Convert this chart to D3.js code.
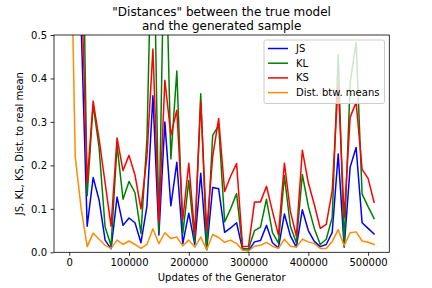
<!DOCTYPE html>
<html><head><meta charset="utf-8">
<script src="https://cdn.jsdelivr.net/npm/d3@7"></script>
<style>
html,body{margin:0;padding:0;background:#fff;}
svg{display:block;font-family:"DejaVu Sans",sans-serif;}
</style></head>
<body>
<svg id="chart" width="432" height="288"></svg>
<script>
const updates = d3.range(0, 520000, 10000);
const jsVals = [0.9,0.75,0.52,0.06,0.172,0.12,0.028,0.008,0.127,0.062,0.079,0.068,0.022,0.106,0.36,0.04,0.30,0.107,0.207,0.02,0.09,0.018,0.182,0.006,0.149,0.146,0.046,0.056,0.068,0.006,0.004,0.024,0.027,0.062,0.022,0.01,0.088,0.038,0.012,0.098,0.05,0.025,0.013,0.018,0.046,0.226,0.012,0.196,0.241,0.068,0.055,0.042];
const klVals = [1.3,1.1,1.0,0.13,0.34,0.24,0.058,0.015,0.246,0.122,0.163,0.137,0.043,0.26,0.86,0.046,0.8,0.215,0.417,0.042,0.165,0.025,0.365,0.006,0.269,0.292,0.07,0.10,0.135,0.008,0.008,0.05,0.058,0.122,0.045,0.021,0.176,0.06,0.022,0.179,0.106,0.055,0.018,0.03,0.08,0.455,0.015,0.39,0.483,0.134,0.105,0.078];
const ksVals = [1.0,0.8,0.64,0.16,0.348,0.26,0.16,0.06,0.263,0.188,0.223,0.178,0.10,0.22,0.468,0.07,0.396,0.27,0.327,0.075,0.205,0.04,0.347,0.05,0.22,0.308,0.14,0.175,0.204,0.013,0.014,0.116,0.116,0.152,0.094,0.04,0.205,0.094,0.037,0.235,0.16,0.11,0.055,0.064,0.142,0.39,0.08,0.311,0.345,0.191,0.17,0.115];
const meanVals = [0.95,0.22,0.10,0.013,0.044,0.03,0.016,0.009,0.028,0.018,0.026,0.018,0.009,0.018,0.054,0.02,0.045,0.032,0.035,0.015,0.028,0.012,0.035,0.006,0.041,0.034,0.023,0.028,0.02,0.005,0.003,0.014,0.016,0.023,0.014,0.009,0.03,0.014,0.012,0.03,0.024,0.02,0.009,0.009,0.025,0.052,0.015,0.045,0.047,0.026,0.023,0.018];
const seriesNames = ["JS","KL","KS","Dist. btw. means"];
const seriesColors = ["#0000ff","#008000","#ff0000","#ff8c00"];
const xTicks = [0,100000,200000,300000,400000,500000];
const yTicks = [0,0.1,0.2,0.3,0.4,0.5];
const titleLines = ['"Distances" between the true model','and the generated sample'];

const svg = d3.select("#chart");
const L = 54, R = 389.3, T = 35, B = 252.3;
const x = d3.scaleLinear().domain([-25500, 535500]).range([L, R]);
const y = d3.scaleLinear().domain([0, 0.5]).range([B, T]);

svg.append("defs").append("clipPath").attr("id","clip")
  .append("rect").attr("x",L).attr("y",T).attr("width",R-L).attr("height",B-T);

const allSeries = [jsVals, klVals, ksVals, meanVals];
const line = d3.line().x((d,i)=>x(updates[i])).y(d=>y(d));
const g = svg.append("g").attr("clip-path","url(#clip)");
allSeries.forEach((vals, k) => {
  g.append("path").datum(vals).attr("d", line)
   .attr("fill","none").attr("stroke", seriesColors[k])
   .attr("stroke-width",1.5).attr("stroke-linejoin","round").attr("stroke-linecap","square");
});

// axes
const xAxis = d3.axisBottom(x).tickValues(xTicks).tickFormat(d3.format("d")).tickSize(3.5).tickPadding(3.5);
const yAxis = d3.axisLeft(y).tickValues(yTicks).tickFormat(d3.format(".1f")).tickSize(3.5).tickPadding(3.5);
const gx = svg.append("g").attr("transform",`translate(0,${B})`).call(xAxis);
const gy = svg.append("g").attr("transform",`translate(${L},0)`).call(yAxis);
[gx, gy].forEach(a => {
  a.select(".domain").remove();
  a.selectAll(".tick line").attr("stroke","#000").attr("stroke-width",0.8);
  a.selectAll(".tick text").attr("font-size",10).attr("fill","#000").attr("font-family","DejaVu Sans");
});

// frame
svg.append("rect").attr("x",L).attr("y",T).attr("width",R-L).attr("height",B-T)
  .attr("fill","none").attr("stroke","#000").attr("stroke-width",0.8);

// labels
svg.append("text").attr("x",(L+R)/2).attr("y",281).attr("text-anchor","middle")
  .attr("font-size",10).attr("fill","#000").text("Updates of the Generator");
svg.append("text").attr("transform",`translate(23,${(T+B)/2}) rotate(-90)`).attr("text-anchor","middle")
  .attr("font-size",10).attr("fill","#000").text("JS, KL, KS, Dist. to real mean");
titleLines.forEach((t,i)=>{
  svg.append("text").attr("x",(L+R)/2).attr("y",16+i*14).attr("text-anchor","middle")
    .attr("font-size",12).attr("fill","#000").text(t);
});

// legend
const lg = svg.append("g");
lg.append("rect").attr("x",264).attr("y",40).attr("width",120.5).attr("height",63.5).attr("rx",2)
  .attr("fill","#fff").attr("fill-opacity",0.8).attr("stroke","#cccccc").attr("stroke-width",1);
seriesNames.forEach((n,k)=>{
  const yy = 48.5 + k*14.7;
  lg.append("line").attr("x1",268).attr("x2",288).attr("y1",yy).attr("y2",yy)
    .attr("stroke",seriesColors[k]).attr("stroke-width",1.5);
  lg.append("text").attr("x",296).attr("y",yy+3.5).attr("font-size",10).attr("fill","#000").text(n);
});
</script>
</body></html>
